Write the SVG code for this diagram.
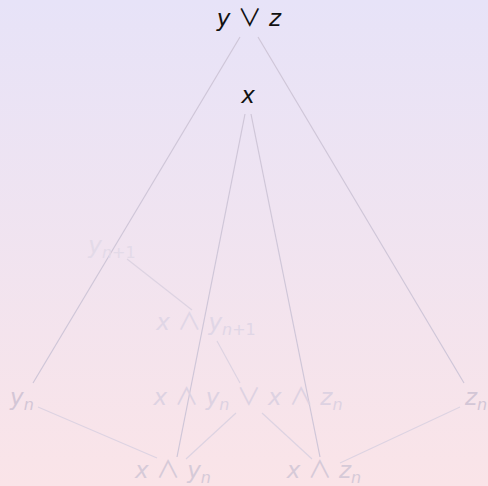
<svg xmlns="http://www.w3.org/2000/svg" width="488" height="486" viewBox="0 0 488 486">
<defs>
<linearGradient id="bg" x1="0" y1="0" x2="0" y2="1">
<stop offset="0" stop-color="#E7E3F8"/>
<stop offset="1" stop-color="#FAE4E8"/>
</linearGradient>
<style>
text{font-family:"DejaVu Sans","Noto Sans",sans-serif;font-size:23px;text-anchor:middle}
.i{font-style:italic}
.s{font-size:16px}
.o{font-family:"Noto Sans CJK SC","DejaVu Sans",sans-serif;font-size:24px}
.e{stroke:#CFC6D8;stroke-width:1.2;fill:none}
.f{stroke:#DDD3E2}
</style>
</defs>
<rect width="488" height="486" fill="url(#bg)"/>
<g id="connectors">
<line class="e" x1="240" y1="37" x2="33" y2="383"/>
<line class="e" x1="258" y1="37" x2="464" y2="383"/>
<line class="e" x1="245" y1="114" x2="177" y2="457"/>
<line class="e" x1="251" y1="114" x2="320" y2="457"/>
<line class="e f" x1="127" y1="259" x2="192" y2="310"/>
<line class="e f" x1="217" y1="341" x2="240" y2="383"/>
<line class="e f" x1="236" y1="413" x2="186" y2="459"/>
<line class="e f" x1="262" y1="413" x2="312" y2="459"/>
<line class="e f" x1="38" y1="407" x2="157" y2="458"/>
<line class="e f" x1="460" y1="407" x2="340" y2="463"/>
</g>
<g id="n-yz"><text x="249" y="26" fill="#111"><tspan class="i">y</tspan> <tspan class="o">∨</tspan> <tspan class="i">z</tspan></text></g>
<g id="n-x"><text x="248" y="103" fill="#111" class="i">x</text></g>
<g id="n-yn1"><text x="112" y="253" fill="#E3DAE8"><tspan class="i">y</tspan><tspan class="s" dy="5"><tspan class="i">n</tspan>+1</tspan></text></g>
<g id="n-xyn1"><text x="206" y="330" fill="#E0D6E6"><tspan class="i">x</tspan> <tspan class="o">∧</tspan> <tspan class="i">y</tspan><tspan class="s" dy="5"><tspan class="i">n</tspan>+1</tspan></text></g>
<g id="n-big"><text x="248" y="405" fill="#DDD2E2"><tspan class="i">x</tspan> <tspan class="o">∧</tspan> <tspan class="i">y</tspan><tspan class="s i" dy="5">n</tspan><tspan dy="-5"> </tspan><tspan class="o">∨</tspan> <tspan class="i">x</tspan> <tspan class="o">∧</tspan> <tspan class="i">z</tspan><tspan class="s i" dy="5">n</tspan></text></g>
<g id="n-yn"><text x="22" y="405" fill="#D3C6D6"><tspan class="i">y</tspan><tspan class="s i" dy="5">n</tspan></text></g>
<g id="n-zn"><text x="476" y="405" fill="#D3C6D6"><tspan class="i">z</tspan><tspan class="s i" dy="5">n</tspan></text></g>
<g id="n-xyn"><text x="173" y="478" fill="#D6CAD8"><tspan class="i">x</tspan> <tspan class="o">∧</tspan> <tspan class="i">y</tspan><tspan class="s i" dy="5">n</tspan></text></g>
<g id="n-xzn"><text x="324" y="478" fill="#D6CAD8"><tspan class="i">x</tspan> <tspan class="o">∧</tspan> <tspan class="i">z</tspan><tspan class="s i" dy="5">n</tspan></text></g>
</svg>
